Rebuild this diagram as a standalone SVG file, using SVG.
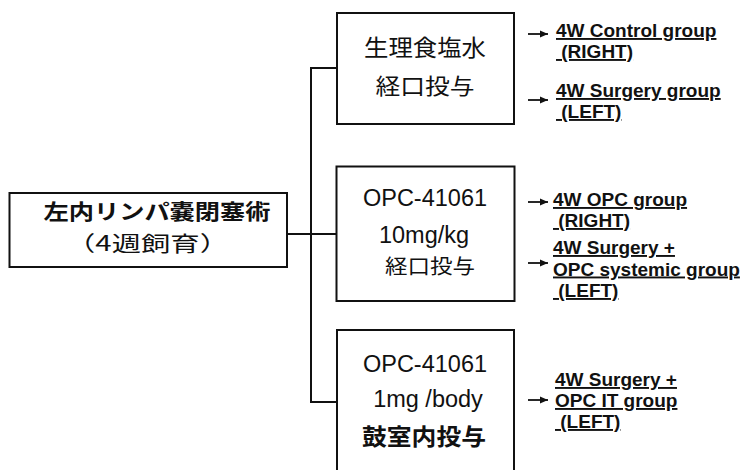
<svg xmlns="http://www.w3.org/2000/svg" width="743" height="470" viewBox="0 0 743 470">
<style>
.box{fill:#fff;stroke:#111;stroke-width:2}
.ln{fill:none;stroke:#111;stroke-width:2}
.ar{fill:none;stroke:#111;stroke-width:1.8;marker-end:url(#ah)}
.jp{font-family:"Noto Sans CJK JP","Noto Sans CJK SC",sans-serif;fill:#111;text-anchor:middle}
.en{font-family:"Liberation Sans",Arial,sans-serif;fill:#111;text-anchor:middle;font-size:23.5px}
.lbl{font-family:"Liberation Sans",Arial,sans-serif;font-weight:bold;font-size:19px;fill:#111;text-decoration:underline;white-space:pre}
</style>
<defs>
<marker id="ah" markerWidth="9" markerHeight="8" refX="8" refY="4" orient="auto" markerUnits="userSpaceOnUse">
<path d="M0,0.5 L8,4 L0,7.5 z" fill="#111"/>
</marker>
</defs>
<rect width="743" height="470" fill="#fff"/>

<g id="connectors">
<path class="ln" d="M287,234 H337"/>
<path class="ln" d="M337,68 H311 V402 H337"/>
<path class="ar" d="M528,34 H548"/>
<path class="ar" d="M528,100 H548"/>
<path class="ar" d="M528,202 H548"/>
<path class="ar" d="M528,263 H548"/>
<path class="ar" d="M528,400 H548"/>
</g>

<g id="node-surgery">
<rect class="box" x="9.5" y="193" width="277.5" height="74"/>
<text class="jp" x="157" y="218.5" font-size="21" font-weight="bold" textLength="227" lengthAdjust="spacingAndGlyphs">左内リンパ嚢閉塞術</text>
<text class="jp" x="147.5" y="251" font-size="21" textLength="163" lengthAdjust="spacingAndGlyphs">（4週飼育）</text>
</g>

<g id="node-saline">
<rect class="box" x="337" y="13" width="177" height="111"/>
<text class="jp" x="425" y="55.5" font-size="23" textLength="122" lengthAdjust="spacingAndGlyphs">生理食塩水</text>
<text class="jp" x="425" y="93.5" font-size="22" textLength="99" lengthAdjust="spacingAndGlyphs">経口投与</text>
</g>

<g id="node-opc-oral">
<rect class="box" x="336.5" y="166.5" width="178" height="134.5"/>
<text class="en" x="425" y="206">OPC-41061</text>
<text class="en" x="424" y="242.5">10mg/kg</text>
<text class="jp" x="430" y="273.5" font-size="20" textLength="90" lengthAdjust="spacingAndGlyphs">経口投与</text>
</g>

<g id="node-opc-it">
<rect class="box" x="337" y="330" width="177" height="144"/>
<text class="en" x="425" y="372">OPC-41061</text>
<text class="en" x="428" y="407">1mg /body</text>
<text class="jp" x="424" y="444.5" font-size="23" font-weight="bold" textLength="124" lengthAdjust="spacingAndGlyphs">鼓室内投与</text>
</g>

<g id="label-control">
<text class="lbl" x="556" y="37">4W Control group</text>
<text class="lbl" x="556" y="58" xml:space="preserve"> (RIGHT)</text>
</g>
<g id="label-surgery">
<text class="lbl" x="556" y="97">4W Surgery group</text>
<text class="lbl" x="556" y="118" xml:space="preserve"> (LEFT)</text>
</g>
<g id="label-opc">
<text class="lbl" x="553" y="206">4W OPC group</text>
<text class="lbl" x="553" y="227" xml:space="preserve"> (RIGHT)</text>
</g>
<g id="label-opc-systemic">
<text class="lbl" x="553" y="254">4W Surgery +</text>
<text class="lbl" x="553" y="275.5">OPC systemic group</text>
<text class="lbl" x="553" y="297" xml:space="preserve"> (LEFT)</text>
</g>
<g id="label-opc-it">
<text class="lbl" x="555" y="386">4W Surgery +</text>
<text class="lbl" x="555" y="407">OPC IT group</text>
<text class="lbl" x="555" y="428" xml:space="preserve"> (LEFT)</text>
</g>
</svg>
